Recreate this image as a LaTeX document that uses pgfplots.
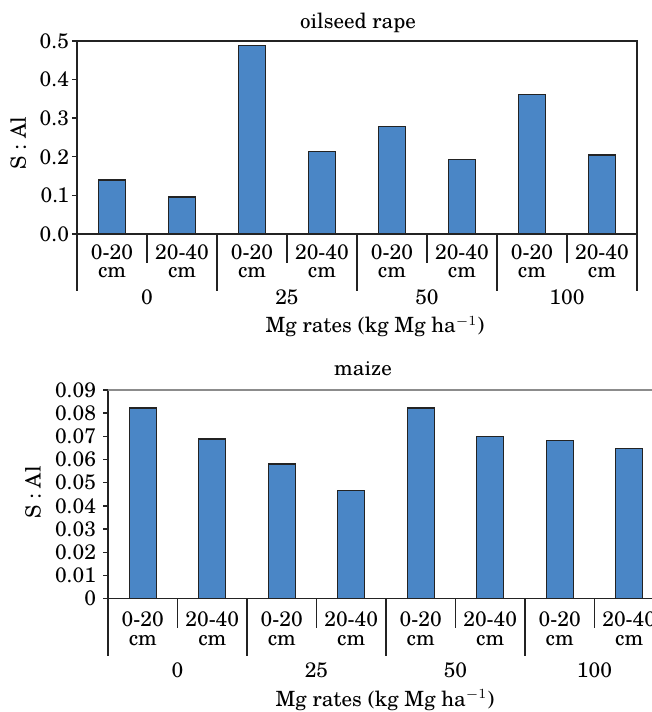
\documentclass[border=0pt]{standalone}
\usepackage{pgfplots}
\pgfplotsset{compat=1.18}
\usepackage{fontspec}
\setmainfont{TeX Gyre Schola}
\definecolor{barblue}{RGB}{74,134,198}
\definecolor{edgec}{RGB}{35,35,35}
\newcommand{\chartfont}{\fontsize{10.5}{9.3}\selectfont}
\pgfplotsset{
  common/.style={
    scale only axis, clip=false,
    xmin=-0.5, xmax=7.5, ymin=0,
    xtick={0.5,2.5,4.5,6.5}, xticklabels={},
    major tick length=14.5pt,
    extra x ticks={-0.5,1.5,3.5,5.5,7.5},
    extra x tick labels={},
    extra x tick style={major tick length=28.5pt, tick align=outside},
    ytick=\empty,
    extra y tick style={major tick length=2.5pt, tick align=outside},
    tick align=outside, tick pos=left,
    tick style={draw=edgec, line width=0.7pt},
    axis line style={draw=edgec, line width=0.75pt},
    ticklabel style={font=\chartfont},
    scaled y ticks=false,
    /pgf/number format/assume math mode=true,
    ybar, bar width=13.5pt,
  },
  bars/.style={fill=barblue, draw=edgec, line width=0.65pt},
}
\begin{document}
\begin{tikzpicture}
\useasboundingbox (0,0) rectangle (326pt,356pt);
\clip (0,0) rectangle (326pt,356pt);
% ---------- top: oilseed rape ----------
\begin{axis}[common,
  at={(38.5pt,239pt)}, anchor=south west,
  width=280pt, height=96.5pt,
  ymax=0.5, extra y ticks={0,0.1,0.2,0.3,0.4,0.5},
  yticklabel style={/pgf/number format/fixed, /pgf/number format/fixed zerofill, /pgf/number format/precision=1, xshift=2pt},
  ]
  \addplot[bars] coordinates {(0,0.140) (1,0.096) (2,0.488) (3,0.213) (4,0.278) (5,0.193) (6,0.362) (7,0.205)};
  \node[font=\chartfont, align=center, anchor=north, inner sep=0pt, yshift=-5pt] at (axis cs:0,0) {0-20\\cm};
  \node[font=\chartfont, align=center, anchor=north, inner sep=0pt, yshift=-5pt] at (axis cs:2,0) {0-20\\cm};
  \node[font=\chartfont, align=center, anchor=north, inner sep=0pt, yshift=-5pt] at (axis cs:4,0) {0-20\\cm};
  \node[font=\chartfont, align=center, anchor=north, inner sep=0pt, yshift=-5pt] at (axis cs:6,0) {0-20\\cm};
  \node[font=\chartfont, align=center, anchor=north, inner sep=0pt, yshift=-5pt] at (axis cs:1,0) {20-40\\cm};
  \node[font=\chartfont, align=center, anchor=north, inner sep=0pt, yshift=-5pt] at (axis cs:3,0) {20-40\\cm};
  \node[font=\chartfont, align=center, anchor=north, inner sep=0pt, yshift=-5pt] at (axis cs:5,0) {20-40\\cm};
  \node[font=\chartfont, align=center, anchor=north, inner sep=0pt, yshift=-5pt] at (axis cs:7,0) {20-40\\cm};
  \node[font=\chartfont, anchor=north, inner sep=0pt, yshift=-27.7pt] at (axis cs:0.5,0) {0};
  \node[font=\chartfont, anchor=north, inner sep=0pt, yshift=-27.7pt] at (axis cs:2.5,0) {25};
  \node[font=\chartfont, anchor=north, inner sep=0pt, yshift=-27.7pt] at (axis cs:4.5,0) {50};
  \node[font=\chartfont, anchor=north, inner sep=0pt, yshift=-27.7pt] at (axis cs:6.5,0) {100};
\end{axis}
\node[font=\chartfont, anchor=base] at (179pt,341.8pt) {oilseed rape};
\node[font=\chartfont, anchor=base] at (187.5pt,189.5pt) {Mg rates (kg Mg ha$^{-1}$)};
\node[font=\chartfont, rotate=90] at (9.2pt,284.5pt) {S : Al};
% ---------- bottom: maize ----------
\begin{axis}[common,
  at={(54pt,56.65pt)}, anchor=south west,
  width=278pt, height=104.35pt,
  axis x line*=bottom, axis y line*=left,
  ymax=0.09, extra y ticks={0,0.01,0.02,0.03,0.04,0.05,0.06,0.07,0.08,0.09},
  yticklabel style={/pgf/number format/fixed, /pgf/number format/precision=2},
  ]
  \draw[draw=black!45, line width=0.6pt] (rel axis cs:0,1) -- (rel axis cs:1,1);
  \addplot[bars] coordinates {(0,0.0822) (1,0.0689) (2,0.0581) (3,0.0466) (4,0.0822) (5,0.0700) (6,0.0681) (7,0.0649)};
  \node[font=\chartfont, align=center, anchor=north, inner sep=0pt, yshift=-6.5pt] at (axis cs:0,0) {0-20\\cm};
  \node[font=\chartfont, align=center, anchor=north, inner sep=0pt, yshift=-6.5pt] at (axis cs:2,0) {0-20\\cm};
  \node[font=\chartfont, align=center, anchor=north, inner sep=0pt, yshift=-6.5pt] at (axis cs:4,0) {0-20\\cm};
  \node[font=\chartfont, align=center, anchor=north, inner sep=0pt, yshift=-6.5pt] at (axis cs:6,0) {0-20\\cm};
  \node[font=\chartfont, align=center, anchor=north, inner sep=0pt, yshift=-6.5pt] at (axis cs:1,0) {20-40\\cm};
  \node[font=\chartfont, align=center, anchor=north, inner sep=0pt, yshift=-6.5pt] at (axis cs:3,0) {20-40\\cm};
  \node[font=\chartfont, align=center, anchor=north, inner sep=0pt, yshift=-6.5pt] at (axis cs:5,0) {20-40\\cm};
  \node[font=\chartfont, align=center, anchor=north, inner sep=0pt, yshift=-6.5pt] at (axis cs:7,0) {20-40\\cm};
  \node[font=\chartfont, anchor=north, inner sep=0pt, yshift=-32pt] at (axis cs:0.5,0) {0};
  \node[font=\chartfont, anchor=north, inner sep=0pt, yshift=-32pt] at (axis cs:2.5,0) {25};
  \node[font=\chartfont, anchor=north, inner sep=0pt, yshift=-32pt] at (axis cs:4.5,0) {50};
  \node[font=\chartfont, anchor=north, inner sep=0pt, yshift=-32pt] at (axis cs:6.5,0) {100};
\end{axis}
\node[font=\chartfont, anchor=base] at (181.5pt,168pt) {maize};
\node[font=\chartfont, anchor=base] at (192.5pt,2.65pt) {Mg rates (kg Mg ha$^{-1}$)};
\node[font=\chartfont, rotate=90] at (16.5pt,109.75pt) {S : Al};
\end{tikzpicture}
\end{document}
